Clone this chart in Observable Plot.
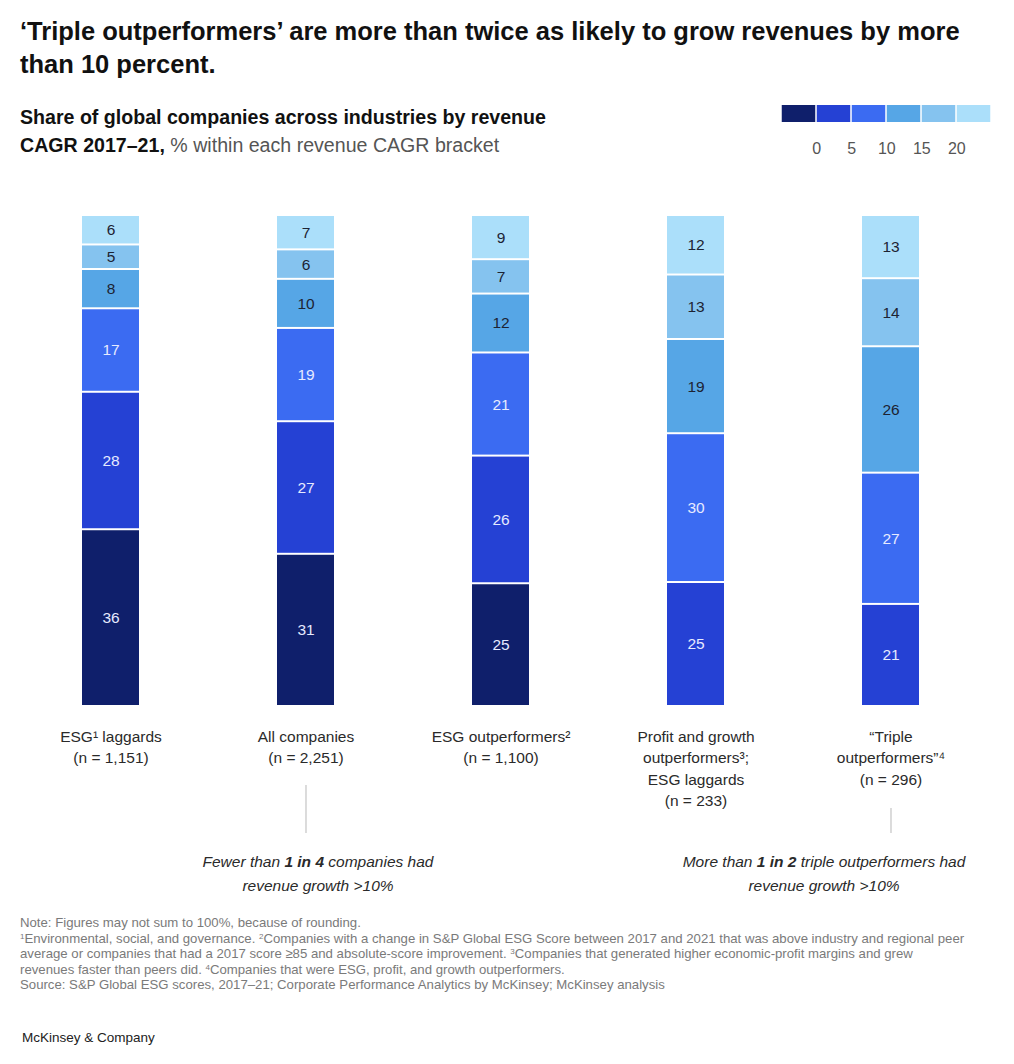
<!DOCTYPE html>
<html>
<head>
<meta charset="utf-8">
<script src="https://cdn.jsdelivr.net/npm/d3@7"></script>
<script src="https://cdn.jsdelivr.net/npm/@observablehq/plot@0.6"></script>
<style>
  html, body { margin: 0; padding: 0; background: #fff; }
  body { width: 1014px; height: 1064px; position: relative; font-family: "Liberation Sans", Arial, sans-serif; color: #111; overflow: hidden; }
  .abs { position: absolute; }
  #title { left: 20px; top: 15px; width: 980px; font-size: 25.5px; font-weight: 700; line-height: 33px; color: #111; }
  #subtitle { left: 20px; top: 103px; width: 620px; font-size: 19.6px; line-height: 28px; color: #111; white-space: nowrap; }
  #subtitle b { font-weight: 700; }
  #subtitle span { color: #555; }
  #notes { left: 20px; top: 915px; width: 990px; font-size: 13.2px; line-height: 15.5px; color: #7a7a7a; white-space: nowrap; }
  #notes sup { font-size: 8px; vertical-align: 4px; line-height: 0; }
  #brand { left: 22px; top: 1030px; font-size: 13.5px; color: #222; }
  svg { background: transparent !important; overflow: visible; }
</style>
</head>
<body>
<div id="title" class="abs">‘Triple outperformers’ are more than twice as likely to grow revenues by more than 10 percent.</div>
<div id="subtitle" class="abs"><b>Share of global companies across industries by revenue<br>CAGR 2017–21,</b> <span>% within each revenue CAGR bracket</span></div>
<div id="legend" class="abs" style="left:779px; top:100px;"></div>
<div id="chart" class="abs" style="left:0; top:180px;"></div>
<div id="labels" class="abs" style="left:0; top:726px;"></div>
<div id="notes" class="abs">Note: Figures may not sum to 100%, because of rounding.<br><sup>1</sup>Environmental, social, and governance. <sup>2</sup>Companies with a change in S&amp;P Global ESG Score between 2017 and 2021 that was above industry and regional peer<br>average or companies that had a 2017 score ≥85 and absolute-score improvement. <sup>3</sup>Companies that generated higher economic-profit margins and grew<br>revenues faster than peers did. <sup>4</sup>Companies that were ESG, profit, and growth outperformers.<br>Source: S&amp;P Global ESG scores, 2017–21; Corporate Performance Analytics by McKinsey; McKinsey analysis</div>
<div id="brand" class="abs">McKinsey &amp; Company</div>

<script>
// ---- Data ----
const groups = ["ESG laggards", "All companies", "ESG outperformers", "Profit and growth outperformers; ESG laggards", "Triple outperformers"];
const groupLabels = [
  "ESG¹ laggards\n(n = 1,151)",
  "All companies\n(n = 2,251)",
  "ESG outperformers²\n(n = 1,100)",
  "Profit and growth\noutperformers³;\nESG laggards\n(n = 233)",
  "“Triple\noutperformers”⁴\n(n = 296)"
];
const brackets = ["<0", "0–5", "5–10", "10–15", "15–20", ">20"];
const legendTicks = ["0", "5", "10", "15", "20"];
const esgLaggards      = [36, 28, 17, 8, 5, 6];
const allCompanies     = [31, 27, 19, 10, 6, 7];
const esgOutperformers = [25, 26, 21, 12, 7, 9];
const profitGrowth     = [0, 25, 30, 19, 13, 12];
const tripleOutperf    = [0, 21, 27, 26, 14, 13];
const palette = ["#0f1f6b", "#2541d4", "#3b6bf2", "#56a6e6", "#85c3ef", "#abdffa"];
const annotations = [
  {group: "All companies", text: "Fewer than 1 in 4 companies had\nrevenue growth >10%"},
  {group: "Triple outperformers", text: "More than 1 in 2 triple outperformers had\nrevenue growth >10%"}
];

const series = [esgLaggards, allCompanies, esgOutperformers, profitGrowth, tripleOutperf];
const data = [];
series.forEach((vals, gi) => vals.forEach((v, bi) => {
  if (v > 0) data.push({group: groups[gi], bracket: brackets[bi], value: v, dark: bi < 3});
}));
const labelOf = new Map(groups.map((g, i) => [g, groupLabels[i]]));

const FONT = "Liberation Sans, Arial, sans-serif";
const xScale = {type: "band", domain: groups, padding: 0, axis: null};
const colorScale = {type: "ordinal", domain: brackets, range: palette};

// ---- Main bars ----
const chart = Plot.plot({
  width: 1014, height: 546,
  marginTop: 35, marginBottom: 20, marginLeft: 11, marginRight: 25,
  style: {fontFamily: FONT, background: "transparent"},
  x: xScale,
  y: {axis: null},
  color: colorScale,
  marks: [
    Plot.barY(data, {x: "group", y: "value", fill: "bracket", offset: "normalize",
      insetLeft: 69, insetRight: 69, insetTop: 1, insetBottom: 1}),
    Plot.text(data, Plot.stackY({offset: "normalize", x: "group", y: "value",
      text: d => d.dark ? d.value : null, fill: "#e6eaff", fontSize: 15.5})),
    Plot.text(data, Plot.stackY({offset: "normalize", x: "group", y: "value",
      text: d => d.dark ? null : d.value, fill: "#1d2333", fontSize: 15.5}))
  ]
});
document.getElementById("chart").append(chart);

// ---- Category labels + annotations ----
const lab = Plot.plot({
  width: 1014, height: 174,
  marginTop: 0, marginBottom: 67, marginLeft: 11, marginRight: 25,
  style: {fontFamily: FONT, background: "transparent"},
  x: xScale,
  marks: [
    Plot.text(groups, {x: d => d, text: d => labelOf.get(d), frameAnchor: "top", lineAnchor: "top",
      dy: 0, fontSize: 15.5, lineHeight: 1.39, fill: "#2a2a2a"}),
    Plot.ruleX([annotations[0]], {x: "group", stroke: "#c4c4c4", strokeWidth: 1.2, insetTop: 59}),
    Plot.ruleX([annotations[1]], {x: "group", stroke: "#c4c4c4", strokeWidth: 1.2, insetTop: 82}),
    Plot.text([annotations[0]], {x: "group", text: "text", frameAnchor: "bottom", lineAnchor: "top",
      dy: 16, dx: 12, fontSize: 15.5, fontStyle: "italic", lineHeight: 1.55, fill: "#2a2a2a"}),
    Plot.text([annotations[1]], {x: "group", text: "text", frameAnchor: "bottom", lineAnchor: "top",
      dy: 16, dx: -67, fontSize: 15.5, fontStyle: "italic", lineHeight: 1.55, fill: "#2a2a2a"})
  ]
});
// bold emphasis inside annotation lines
d3.select(lab).selectAll("tspan, text").each(function() {
  if (this.childElementCount) return;
  const t = this.textContent;
  const m = t.match(/1 in [0-9]/);
  if (!m) return;
  const [pre, post] = t.split(m[0]);
  this.textContent = "";
  const NS = "http://www.w3.org/2000/svg";
  const a = document.createElementNS(NS, "tspan"); a.textContent = pre;
  const b = document.createElementNS(NS, "tspan"); b.textContent = m[0]; b.setAttribute("font-weight", "bold"); b.setAttribute("font-style", "italic");
  const c = document.createElementNS(NS, "tspan"); c.textContent = post;
  this.append(a, b, c);
});
document.getElementById("labels").append(lab);

// ---- Legend ----
const legend = Plot.plot({
  width: 214, height: 60,
  marginTop: 5, marginBottom: 38, marginLeft: 0, marginRight: 0,
  style: {fontFamily: FONT, background: "transparent", overflow: "visible"},
  x: {type: "band", domain: brackets, padding: 0, axis: null},
  color: colorScale,
  marks: [
    Plot.cell(brackets, {x: d => d, fill: d => d, insetLeft: 0.75, insetRight: 0.75}),
    Plot.text(legendTicks, {x: (d, i) => brackets[i], text: d => d, frameAnchor: "bottom",
      dy: 31, dx: 17.8, fontSize: 16, fill: "#555"})
  ]
});
document.getElementById("legend").append(legend);
</script>
</body>
</html>
